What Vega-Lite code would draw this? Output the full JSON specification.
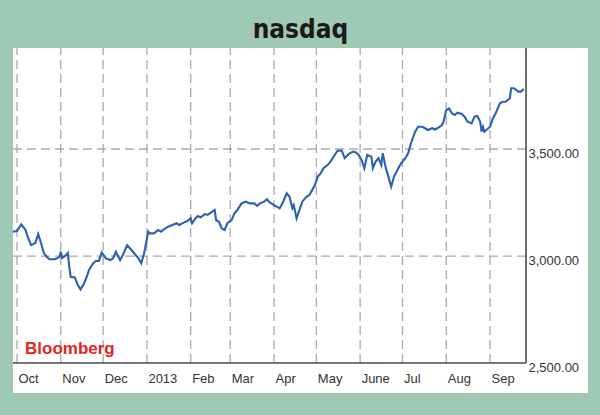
{
  "$schema": "https://vega.github.io/schema/vega-lite/v6.json",
  "width": 575,
  "height": 345,
  "autosize": {"type": "none"},
  "padding": {"left": 13, "top": 48, "right": 12, "bottom": 22},
  "background": "#9fc9b5",
  "config": {
    "view": {"fill": "white", "stroke": null},
    "axis": {"labelFont": "Liberation Sans", "labelFontSize": 13, "labelColor": "#333333"}
  },
  "title": {
    "text": "nasdaq",
    "font": "DejaVu Sans Condensed",
    "fontSize": 26,
    "fontWeight": "bold",
    "color": "#1a1a1a",
    "anchor": "middle",
    "frame": "group",
    "baseline": "alphabetic",
    "offset": -17
  },
  "datasets": {
    "nasdaq": [
      {"date": "2012-09-28", "close": 3114}, {"date": "2012-10-01", "close": 3117}, {"date": "2012-10-04", "close": 3148},
      {"date": "2012-10-07", "close": 3122}, {"date": "2012-10-09", "close": 3083}, {"date": "2012-10-11", "close": 3051},
      {"date": "2012-10-14", "close": 3061}, {"date": "2012-10-16", "close": 3103}, {"date": "2012-10-18", "close": 3061},
      {"date": "2012-10-20", "close": 3014}, {"date": "2012-10-22", "close": 2997}, {"date": "2012-10-24", "close": 2985},
      {"date": "2012-10-28", "close": 2985}, {"date": "2012-10-31", "close": 2995}, {"date": "2012-11-01", "close": 3020},
      {"date": "2012-11-02", "close": 2991}, {"date": "2012-11-05", "close": 3005}, {"date": "2012-11-06", "close": 3014},
      {"date": "2012-11-07", "close": 2950}, {"date": "2012-11-08", "close": 2903}, {"date": "2012-11-11", "close": 2900},
      {"date": "2012-11-13", "close": 2865}, {"date": "2012-11-15", "close": 2844}, {"date": "2012-11-17", "close": 2865},
      {"date": "2012-11-19", "close": 2896}, {"date": "2012-11-21", "close": 2935}, {"date": "2012-11-24", "close": 2966},
      {"date": "2012-11-26", "close": 2978}, {"date": "2012-11-28", "close": 2977}, {"date": "2012-11-30", "close": 3016},
      {"date": "2012-12-03", "close": 2989}, {"date": "2012-12-06", "close": 2981}, {"date": "2012-12-08", "close": 2989},
      {"date": "2012-12-10", "close": 3020}, {"date": "2012-12-13", "close": 2981}, {"date": "2012-12-15", "close": 3005},
      {"date": "2012-12-18", "close": 3051}, {"date": "2012-12-21", "close": 3028}, {"date": "2012-12-24", "close": 3005},
      {"date": "2012-12-26", "close": 2989}, {"date": "2012-12-28", "close": 2966}, {"date": "2012-12-30", "close": 3013},
      {"date": "2013-01-02", "close": 3114}, {"date": "2013-01-03", "close": 3106}, {"date": "2013-01-06", "close": 3106},
      {"date": "2013-01-09", "close": 3122}, {"date": "2013-01-11", "close": 3114}, {"date": "2013-01-13", "close": 3125},
      {"date": "2013-01-16", "close": 3137}, {"date": "2013-01-19", "close": 3145}, {"date": "2013-01-22", "close": 3153},
      {"date": "2013-01-24", "close": 3145}, {"date": "2013-01-27", "close": 3156}, {"date": "2013-01-29", "close": 3161},
      {"date": "2013-02-01", "close": 3176}, {"date": "2013-02-02", "close": 3153}, {"date": "2013-02-04", "close": 3172},
      {"date": "2013-02-06", "close": 3187}, {"date": "2013-02-08", "close": 3181}, {"date": "2013-02-11", "close": 3196},
      {"date": "2013-02-13", "close": 3192}, {"date": "2013-02-15", "close": 3202}, {"date": "2013-02-18", "close": 3215},
      {"date": "2013-02-19", "close": 3168}, {"date": "2013-02-21", "close": 3160}, {"date": "2013-02-23", "close": 3129},
      {"date": "2013-02-25", "close": 3122}, {"date": "2013-02-27", "close": 3153}, {"date": "2013-03-02", "close": 3168},
      {"date": "2013-03-04", "close": 3200}, {"date": "2013-03-06", "close": 3215}, {"date": "2013-03-09", "close": 3246},
      {"date": "2013-03-12", "close": 3254}, {"date": "2013-03-15", "close": 3246}, {"date": "2013-03-18", "close": 3246},
      {"date": "2013-03-20", "close": 3234}, {"date": "2013-03-22", "close": 3246}, {"date": "2013-03-25", "close": 3254},
      {"date": "2013-03-27", "close": 3265}, {"date": "2013-03-29", "close": 3250}, {"date": "2013-04-01", "close": 3238},
      {"date": "2013-04-05", "close": 3223}, {"date": "2013-04-07", "close": 3246}, {"date": "2013-04-10", "close": 3293},
      {"date": "2013-04-12", "close": 3277}, {"date": "2013-04-14", "close": 3223}, {"date": "2013-04-15", "close": 3238},
      {"date": "2013-04-17", "close": 3176}, {"date": "2013-04-19", "close": 3215}, {"date": "2013-04-21", "close": 3254},
      {"date": "2013-04-24", "close": 3277}, {"date": "2013-04-26", "close": 3285}, {"date": "2013-04-28", "close": 3308},
      {"date": "2013-04-30", "close": 3332}, {"date": "2013-05-02", "close": 3371}, {"date": "2013-05-04", "close": 3386},
      {"date": "2013-05-06", "close": 3410}, {"date": "2013-05-09", "close": 3425}, {"date": "2013-05-11", "close": 3441},
      {"date": "2013-05-14", "close": 3472}, {"date": "2013-05-16", "close": 3492}, {"date": "2013-05-19", "close": 3492},
      {"date": "2013-05-21", "close": 3457}, {"date": "2013-05-24", "close": 3477}, {"date": "2013-05-27", "close": 3488},
      {"date": "2013-05-29", "close": 3484}, {"date": "2013-05-31", "close": 3472}, {"date": "2013-06-02", "close": 3449},
      {"date": "2013-06-04", "close": 3410}, {"date": "2013-06-06", "close": 3472}, {"date": "2013-06-09", "close": 3464},
      {"date": "2013-06-10", "close": 3410}, {"date": "2013-06-12", "close": 3441}, {"date": "2013-06-14", "close": 3457},
      {"date": "2013-06-16", "close": 3425}, {"date": "2013-06-17", "close": 3480}, {"date": "2013-06-19", "close": 3417},
      {"date": "2013-06-21", "close": 3371}, {"date": "2013-06-23", "close": 3324}, {"date": "2013-06-25", "close": 3371},
      {"date": "2013-06-28", "close": 3410}, {"date": "2013-06-30", "close": 3433}, {"date": "2013-07-03", "close": 3457},
      {"date": "2013-07-05", "close": 3480}, {"date": "2013-07-07", "close": 3527}, {"date": "2013-07-10", "close": 3581},
      {"date": "2013-07-12", "close": 3604}, {"date": "2013-07-15", "close": 3604}, {"date": "2013-07-17", "close": 3597},
      {"date": "2013-07-19", "close": 3589}, {"date": "2013-07-22", "close": 3597}, {"date": "2013-07-24", "close": 3591},
      {"date": "2013-07-26", "close": 3598}, {"date": "2013-07-29", "close": 3612}, {"date": "2013-07-30", "close": 3626},
      {"date": "2013-08-01", "close": 3682}, {"date": "2013-08-03", "close": 3690}, {"date": "2013-08-05", "close": 3667},
      {"date": "2013-08-07", "close": 3659}, {"date": "2013-08-09", "close": 3670}, {"date": "2013-08-12", "close": 3664},
      {"date": "2013-08-14", "close": 3651}, {"date": "2013-08-16", "close": 3628}, {"date": "2013-08-19", "close": 3620},
      {"date": "2013-08-21", "close": 3651}, {"date": "2013-08-23", "close": 3654}, {"date": "2013-08-25", "close": 3628},
      {"date": "2013-08-26", "close": 3581}, {"date": "2013-08-27", "close": 3604}, {"date": "2013-08-28", "close": 3581},
      {"date": "2013-08-30", "close": 3592}, {"date": "2013-09-01", "close": 3604}, {"date": "2013-09-03", "close": 3643},
      {"date": "2013-09-05", "close": 3667}, {"date": "2013-09-08", "close": 3714}, {"date": "2013-09-10", "close": 3721},
      {"date": "2013-09-12", "close": 3721}, {"date": "2013-09-15", "close": 3737}, {"date": "2013-09-16", "close": 3784},
      {"date": "2013-09-18", "close": 3784}, {"date": "2013-09-21", "close": 3768}, {"date": "2013-09-23", "close": 3768},
      {"date": "2013-09-24", "close": 3776}, {"date": "2013-09-25", "close": 3779}
    ],
    "months": [
      {"date": "2012-10-01"}, {"date": "2012-11-01"}, {"date": "2012-12-01"}, {"date": "2013-01-01"},
      {"date": "2013-02-01"}, {"date": "2013-03-01"}, {"date": "2013-04-01"}, {"date": "2013-05-01"},
      {"date": "2013-06-01"}, {"date": "2013-07-01"}, {"date": "2013-08-01"}, {"date": "2013-09-01"}
    ],
    "levels": [{"level": 3000}, {"level": 3500}],
    "baseline": [{"level": 2500}]
  },
  "layer": [
    {
      "data": {"name": "months"},
      "mark": {"type": "rule", "color": "#aaa8b4", "strokeWidth": 1.3, "strokeDash": [9, 5]},
      "encoding": {
        "x": {"field": "date", "type": "temporal", "title": null,
              "scale": {"type": "utc", "domain": [{"year": 2012, "month": 9, "date": 28, "hours": 4, "utc": true}, {"year": 2013, "month": 11, "date": 9, "hours": 9, "utc": true}]}},
        "y": {"datum": 2500, "type": "quantitative", "title": null, "scale": {"domain": [2360, 3972], "nice": false, "zero": false}},
        "y2": {"datum": 3972}
      }
    },
    {
      "data": {"name": "levels"},
      "mark": {"type": "rule", "color": "#aaa8b4", "strokeWidth": 1.3, "strokeDash": [9, 5]},
      "encoding": {
        "y": {"field": "level", "type": "quantitative", "title": null, "scale": {"domain": [2360, 3972], "nice": false, "zero": false}},
        "x": {"datum": {"year": 2012, "month": 9, "date": 28, "hours": 4, "utc": true}, "type": "temporal", "title": null,
              "scale": {"type": "utc", "domain": [{"year": 2012, "month": 9, "date": 28, "hours": 4, "utc": true}, {"year": 2013, "month": 11, "date": 9, "hours": 9, "utc": true}]}},
        "x2": {"datum": {"year": 2013, "month": 9, "date": 26, "hours": 12, "utc": true}}
      }
    },
    {
      "data": {"name": "baseline"},
      "mark": {"type": "rule", "color": "#4a4a4a", "strokeWidth": 1.6},
      "encoding": {
        "y": {"field": "level", "type": "quantitative", "title": null, "scale": {"domain": [2360, 3972], "nice": false, "zero": false}},
        "x": {"datum": {"year": 2012, "month": 9, "date": 28, "hours": 4, "utc": true}, "type": "temporal", "title": null,
              "scale": {"type": "utc", "domain": [{"year": 2012, "month": 9, "date": 28, "hours": 4, "utc": true}, {"year": 2013, "month": 11, "date": 9, "hours": 9, "utc": true}]}},
        "x2": {"datum": {"year": 2013, "month": 9, "date": 26, "hours": 12, "utc": true}}
      }
    },
    {
      "data": {"values": [{}]},
      "mark": {"type": "rule", "color": "#4a4a4a", "strokeWidth": 1.6},
      "encoding": {
        "x": {"datum": {"year": 2013, "month": 9, "date": 26, "hours": 12, "utc": true}, "type": "temporal", "title": null,
              "scale": {"type": "utc", "domain": [{"year": 2012, "month": 9, "date": 28, "hours": 4, "utc": true}, {"year": 2013, "month": 11, "date": 9, "hours": 9, "utc": true}]}},
        "y": {"datum": 2500, "type": "quantitative", "title": null, "scale": {"domain": [2360, 3972], "nice": false, "zero": false}},
        "y2": {"datum": 3972}
      }
    },
    {
      "data": {"name": "nasdaq"},
      "mark": {"type": "line", "color": "#2c60b0", "strokeWidth": 2.1, "interpolate": "linear"},
      "encoding": {
        "x": {"field": "date", "type": "temporal", "title": null,
              "scale": {"type": "utc", "domain": [{"year": 2012, "month": 9, "date": 28, "hours": 4, "utc": true}, {"year": 2013, "month": 11, "date": 9, "hours": 9, "utc": true}]},
              "axis": {
                "orient": "bottom", "title": null, "grid": false, "ticks": false, "domain": false,
                "values": [
                  {"year": 2012, "month": 10, "date": 1, "utc": true}, {"year": 2012, "month": 11, "date": 1, "utc": true},
                  {"year": 2012, "month": 12, "date": 1, "utc": true}, {"year": 2013, "month": 1, "date": 1, "utc": true},
                  {"year": 2013, "month": 2, "date": 1, "utc": true}, {"year": 2013, "month": 3, "date": 1, "utc": true},
                  {"year": 2013, "month": 4, "date": 1, "utc": true}, {"year": 2013, "month": 5, "date": 1, "utc": true},
                  {"year": 2013, "month": 6, "date": 1, "utc": true}, {"year": 2013, "month": 7, "date": 1, "utc": true},
                  {"year": 2013, "month": 8, "date": 1, "utc": true}, {"year": 2013, "month": 9, "date": 1, "utc": true}
                ],
                "labelExpr": "utcFormat(datum.value, '%m') == '01' ? utcFormat(datum.value, '%Y') : (utcFormat(datum.value, '%m') == '06' ? 'June' : utcFormat(datum.value, '%b'))",
                "labelAlign": "left", "labelBaseline": "alphabetic", "labelPadding": -11, "labelOffset": 1,
                "labelFlush": false, "labelOverlap": false, "labelBound": false
              }},
        "y": {"field": "close", "type": "quantitative", "title": null,
              "scale": {"domain": [2360, 3972], "nice": false, "zero": false},
              "axis": {
                "orient": "right", "title": null, "grid": false, "ticks": false, "domain": false,
                "values": [2500, 3000, 3500], "format": ",.2f",
                "labelAlign": "left", "labelBaseline": "middle", "labelPadding": -60, "labelOffset": 4,
                "labelFlush": false, "labelOverlap": false
              }}
      }
    },
    {
      "data": {"values": [{}]},
      "mark": {"type": "text", "text": "Bloomberg", "font": "Liberation Sans", "fontSize": 17, "fontWeight": "bold", "color": "#e0261c", "align": "left", "baseline": "alphabetic"},
      "encoding": {
        "x": {"datum": {"year": 2012, "month": 10, "date": 6, "hours": 16, "utc": true}, "type": "temporal", "title": null,
              "scale": {"type": "utc", "domain": [{"year": 2012, "month": 9, "date": 28, "hours": 4, "utc": true}, {"year": 2013, "month": 11, "date": 9, "hours": 9, "utc": true}]}},
        "y": {"datum": 2542, "type": "quantitative", "title": null, "scale": {"domain": [2360, 3972], "nice": false, "zero": false}}
      }
    }
  ]
}
